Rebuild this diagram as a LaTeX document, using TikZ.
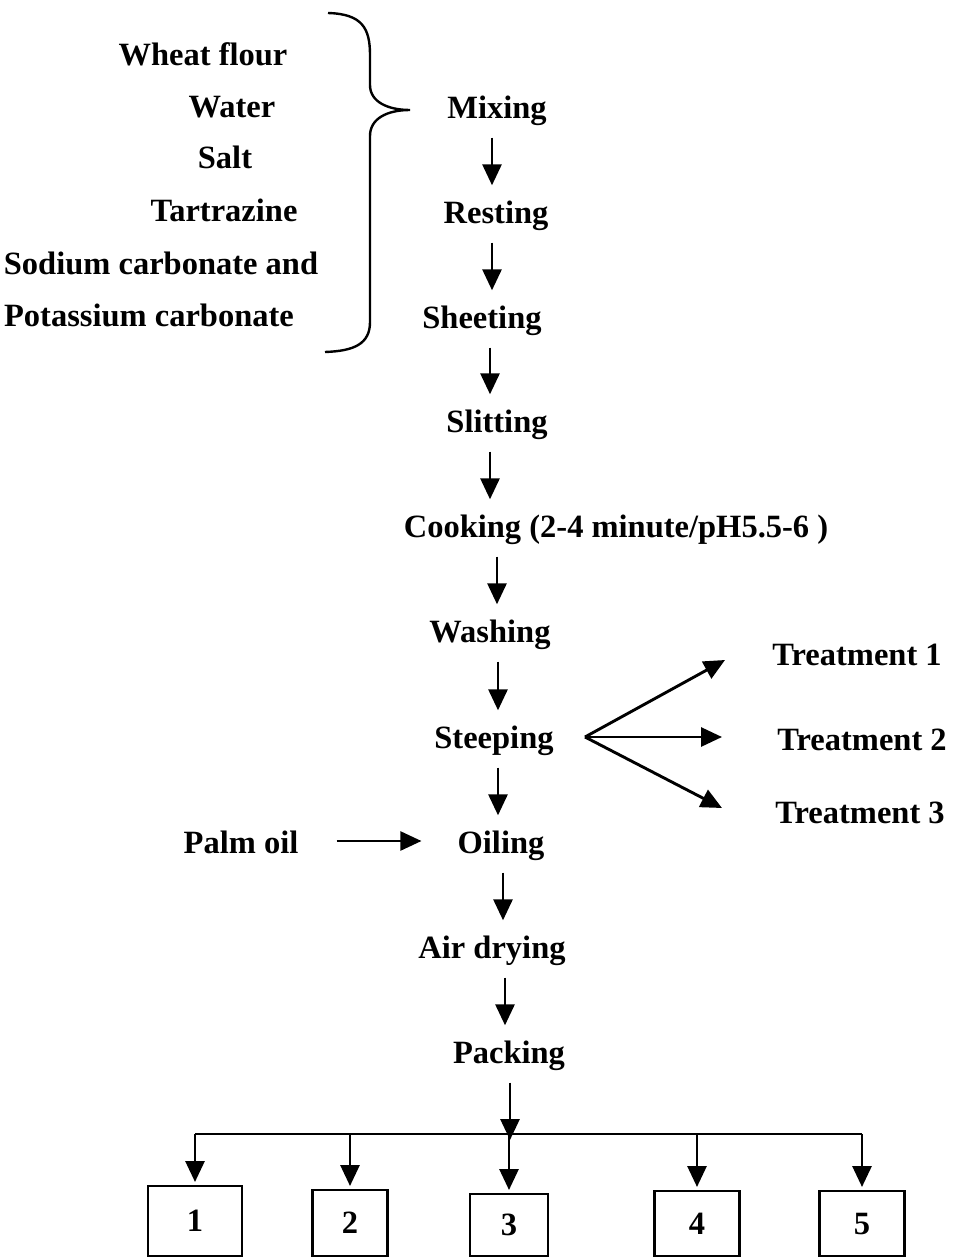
\documentclass[tikz,border=0pt]{standalone}
\usepackage{fontspec}
\setmainfont{Liberation Serif}
\usetikzlibrary{arrows.meta}

\begin{document}
\begin{tikzpicture}[x=1pt,y=-1pt]
\tikzset{every node/.style={font=\fontsize{32.5}{38}\selectfont\bfseries, inner sep=0pt, text height=25pt, text depth=4pt}}
\tikzset{stage/.style={anchor=center}}
\tikzset{flow/.style={line width=2.9pt, -{Triangle[length=21pt,width=19pt]}, shorten <=15pt, shorten >=13pt}}
\tikzset{numbox/.style={draw, line width=2.2pt, text height=21pt, text depth=0pt}}
\useasboundingbox (0,0) rectangle (953,1257);

% ingredients
\node (flour) at (203,55) {Wheat flour};
\node (water) at (232,107) {Water};
\node (salt) at (225,158) {Salt};
\node (tart) at (224,211) {Tartrazine};
\node (sodium) at (161,264) {Sodium carbonate and};
\node (potas) at (149,316) {Potassium carbonate};
\draw[line width=2.4pt] (328,13) .. controls (362,14) and (370,28) .. (370,55) -- (370,85)
   .. controls (370,102) and (388,110) .. (410,110)
   .. controls (388,110) and (370,118) .. (370,136) -- (370,322)
   .. controls (370,344) and (354,351) .. (325,352);

% main line
\node[stage] (mix) at (497,108) {Mixing};
\node[stage] (rest) at (496,213) {Resting};
\node[stage] (sheet) at (482,318) {Sheeting};
\node[stage] (slit) at (497,422) {Slitting};
\node[stage] (cook) at (616,527) {Cooking (2-4 minute/pH5.5-6 )};
\node[stage] (wash) at (490,632) {Washing};
\node[stage] (steep) at (494,738) {Steeping};
\node[stage] (oil) at (501,843) {Oiling};
\node[stage] (dry) at (492,948) {Air drying};
\node[stage] (pack) at (509,1053) {Packing};

\draw[flow] ([xshift=-5pt]mix.south) -- ([xshift=-5pt]mix.south |- rest.north);
\draw[flow] ([xshift=-4pt]rest.south) -- ([xshift=-4pt]rest.south |- sheet.north);
\draw[flow] ([xshift=8pt]sheet.south) -- ([xshift=8pt]sheet.south |- slit.north);
\draw[flow] ([xshift=-7pt]slit.south) -- ([xshift=-7pt]slit.south |- cook.north);
\draw[flow] (mix.south |- cook.south) -- (mix.south |- wash.north);
\draw[flow] ([xshift=8pt]wash.south) -- ([xshift=8pt]wash.south |- steep.north);
\draw[flow] ([xshift=4pt]steep.south) -- ([xshift=4pt]steep.south |- oil.north);
\draw[flow] ([xshift=2pt]oil.south) -- ([xshift=2pt]oil.south |- dry.north);
\draw[flow] ([xshift=13pt]dry.south) -- ([xshift=13pt]dry.south |- pack.north);

% palm oil
\node (palm) at (241,843) {Palm oil};
\draw[flow, line width=2.4pt, shorten <=38pt, shorten >=36pt] ([yshift=2pt]palm.east) -- ([yshift=2pt]oil.west);

% treatments
\node (t1) at (857,655) {Treatment 1};
\node (t2) at (862,740) {Treatment 2};
\node (t3) at (860,813) {Treatment 3};
\coordinate (fork) at (585,737);
\coordinate (t1tip) at (725,660);
\coordinate (t2tip) at (722,737);
\coordinate (t3tip) at (722,808);
\draw[flow, shorten <=0pt, shorten >=0pt] (fork) -- (t1tip);
\draw[flow, shorten <=0pt, shorten >=0pt] (fork) -- (t2tip);
\draw[flow, shorten <=0pt, shorten >=0pt] (fork) -- (t3tip);

% samples
\foreach \i/\x/\w/\t/\h in {1/195/94/1185/70, 2/350/75/1189/66, 3/509/78/1193/62, 4/697/85/1190/65, 5/862/85/1190/65}
  \node[numbox, minimum width=\w pt, minimum height=\h pt, anchor=north] (box\i) at (\x,\t) {\i};
\coordinate (bus) at (510,1134);
\draw[flow, shorten >=-6pt] ([xshift=1pt]pack.south) -- ([xshift=1pt]pack.south |- bus);
\draw[line width=2.6pt] (box1.north |- bus) -- (box5.north |- bus);
\foreach \i in {1,...,5}
  \draw[flow, shorten <=0pt, shorten >=3pt] (box\i.north |- bus) -- (box\i.north);
\end{tikzpicture}
\end{document}
